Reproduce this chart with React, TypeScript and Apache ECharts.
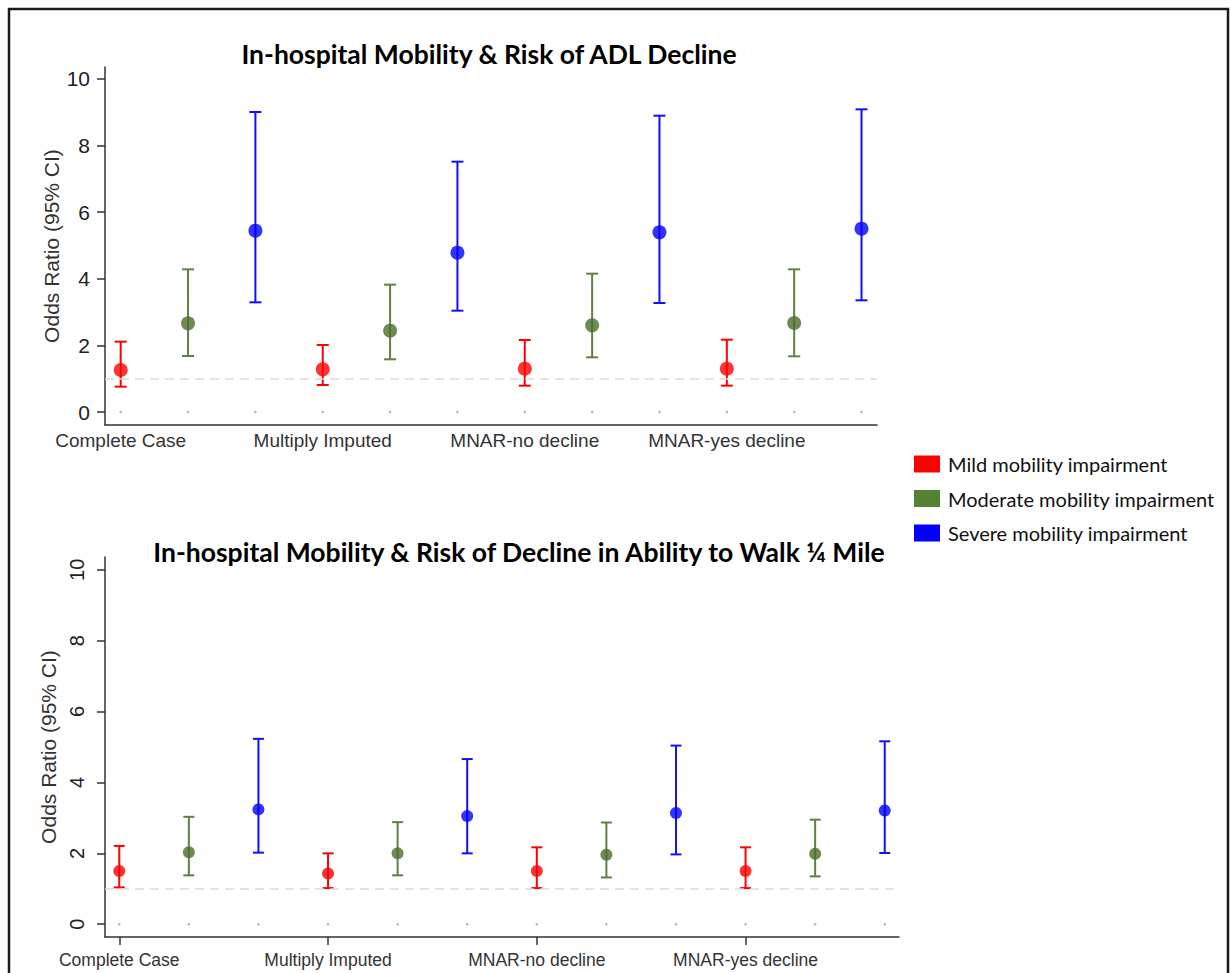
import React, { useEffect, useRef } from "react";
import * as echarts from "echarts";

// ---------- data ----------
const categories = ["Complete Case", "Multiply Imputed", "MNAR-no decline", "MNAR-yes decline"];
const severityNames = ["Mild mobility impairment", "Moderate mobility impairment", "Severe mobility impairment"];
const yTicks = [0, 2, 4, 6, 8, 10];

// Top panel: ADL decline (odds ratio, lower CI, upper CI)
const adlMild = [1.26, 1.28, 1.3, 1.3];
const adlMildLow = [0.76, 0.81, 0.79, 0.79];
const adlMildHigh = [2.11, 2.01, 2.16, 2.17];
const adlModerate = [2.66, 2.44, 2.6, 2.67];
const adlModerateLow = [1.68, 1.58, 1.64, 1.67];
const adlModerateHigh = [4.28, 3.82, 4.15, 4.28];
const adlSevere = [5.44, 4.78, 5.39, 5.5];
const adlSevereLow = [3.29, 3.04, 3.27, 3.35];
const adlSevereHigh = [9.0, 7.51, 8.89, 9.08];

// Bottom panel: decline in ability to walk 1/4 mile
const walkMild = [1.5, 1.43, 1.5, 1.5];
const walkMildLow = [1.04, 1.02, 1.02, 1.02];
const walkMildHigh = [2.21, 2.0, 2.17, 2.17];
const walkModerate = [2.03, 2.0, 1.96, 1.99];
const walkModerateLow = [1.38, 1.38, 1.32, 1.35];
const walkModerateHigh = [3.03, 2.88, 2.87, 2.95];
const walkSevere = [3.24, 3.05, 3.14, 3.21];
const walkSevereLow = [2.02, 2.0, 1.97, 2.01];
const walkSevereHigh = [5.23, 4.66, 5.04, 5.16];

const referenceOR = 1;

// ---------- styles ----------
const markerColors = ["#ff0000", "#4b6e2a", "#0000ff"];
const barColors = ["#ff0000", "#617f43", "#1010ff"];
const legendColors = ["#ff0000", "#548235", "#0000ff"];
const AXIS_FONT = "'Liberation Sans', Arial, sans-serif";
const TITLE_FONT = "Lato, 'Open Sans', sans-serif";

const xPos = (catIdx: number, sevIdx: number) => catIdx * 3 + sevIdx + 1;

type Panel = {
  est: number[][];
  low: number[][];
  high: number[][];
};

const panels: Panel[] = [
  {
    est: [adlMild, adlModerate, adlSevere],
    low: [adlMildLow, adlModerateLow, adlSevereLow],
    high: [adlMildHigh, adlModerateHigh, adlSevereHigh],
  },
  {
    est: [walkMild, walkModerate, walkSevere],
    low: [walkMildLow, walkModerateLow, walkSevereLow],
    high: [walkMildHigh, walkModerateHigh, walkSevereHigh],
  },
];

function buildOption() {
  const series: any[] = [];
  const capHalf = [6, 5.5];
  const markerSize = [14, 12];

  panels.forEach((p, gi) => {
    // faint dots at y=0 for each position
    const dots: number[][] = [];
    categories.forEach((_, ci) => [0, 1, 2].forEach((si) => dots.push([xPos(ci, si), 0])));
    series.push({
      type: "scatter",
      xAxisIndex: gi,
      yAxisIndex: gi,
      data: dots,
      symbolSize: 2.5,
      itemStyle: { color: "#9a9a9a" },
      silent: true,
      z: 1,
      markLine: {
        silent: true,
        symbol: "none",
        label: { show: false },
        lineStyle: { color: "#dadada", width: 1.5, type: [9, 6] },
        data: [{ yAxis: referenceOR }],
      },
    });

    severityNames.forEach((name, si) => {
      const bars = categories.map((_, ci) => [xPos(ci, si), p.low[si][ci], p.high[si][ci]]);
      const pts = categories.map((_, ci) => [xPos(ci, si), p.est[si][ci]]);
      const color = barColors[si];
      series.push({
        type: "custom",
        name,
        xAxisIndex: gi,
        yAxisIndex: gi,
        data: bars,
        encode: { x: 0, y: [1, 2] },
        z: 3,
        renderItem: (_params: any, api: any) => {
          const x = api.value(0);
          const lo = api.coord([x, api.value(1)]);
          const hi = api.coord([x, api.value(2)]);
          const hw = capHalf[gi];
          const style = { stroke: color, lineWidth: 2 };
          return {
            type: "group",
            children: [
              { type: "line", shape: { x1: lo[0], y1: lo[1], x2: hi[0], y2: hi[1] }, style },
              { type: "line", shape: { x1: hi[0] - hw, y1: hi[1], x2: hi[0] + hw, y2: hi[1] }, style },
              { type: "line", shape: { x1: lo[0] - hw, y1: lo[1], x2: lo[0] + hw, y2: lo[1] }, style },
            ],
          };
        },
      });
      series.push({
        type: "scatter",
        name,
        xAxisIndex: gi,
        yAxisIndex: gi,
        data: pts,
        symbol: "circle",
        symbolSize: markerSize[gi],
        itemStyle: { color: markerColors[si] },
        z: 5,
      });
    });
  });

  const grids = [
    { left: 105, right: 353, top: 67, bottom: 548 },
    { left: 105, right: 331, top: 557, bottom: 36 },
  ];
  const xRanges = [
    [0.767, 12.23],
    [0.795, 12.205],
  ];
  const yRanges = [
    [-0.39, 10.35],
    [-0.36, 10.36],
  ];
  const xCustom = categories.map((_, ci) => xPos(ci, 0));

  const xAxis = [0, 1].map((gi) => ({
    type: "value",
    gridIndex: gi,
    min: xRanges[gi][0],
    max: xRanges[gi][1],
    splitLine: { show: false },
    axisLine: { show: true, onZero: false, lineStyle: { color: "#333", width: 1.5 } },
    axisTick: gi === 1
      ? { show: true, customValues: xCustom, length: 8, lineStyle: { color: "#333", width: 1.5 } }
      : { show: false },
    axisLabel: {
      customValues: xCustom,
      formatter: (v: number) => categories[Math.round((v - 1) / 3)] ?? "",
      fontFamily: AXIS_FONT,
      fontSize: gi === 0 ? 19 : 17.5,
      color: "#333",
      margin: gi === 0 ? 6 : 14,
    },
  }));

  const yAxis = [0, 1].map((gi) => ({
    type: "value",
    gridIndex: gi,
    min: yRanges[gi][0],
    max: yRanges[gi][1],
    splitLine: { show: false },
    axisLine: { show: true, onZero: false, lineStyle: { color: "#333", width: 1.5 } },
    axisTick: { show: true, customValues: yTicks, length: 8, lineStyle: { color: "#333", width: 1.5 } },
    axisLabel: {
      customValues: yTicks,
      fontFamily: AXIS_FONT,
      fontSize: gi === 0 ? 21 : 20,
      color: "#222",
      rotate: gi === 0 ? 0 : 90,
      margin: gi === 0 ? 15 : 18,
    },
    name: "Odds Ratio (95% CI)",
    nameLocation: "middle",
    nameMoveOverlap: false,
    nameGap: gi === 0 ? 43 : 46.5,
    nameTextStyle: { fontFamily: AXIS_FONT, fontSize: 21, color: "#333" },
  }));

  return {
    animation: false,
    backgroundColor: "#fff",
    title: [
      {
        text: "In-hospital Mobility & Risk of ADL Decline",
        left: 484,
        textAlign: "center",
        top: 35,
        textStyle: { fontFamily: TITLE_FONT, fontWeight: "bold", fontSize: 26.5, color: "#000" },
      },
      {
        text: "In-hospital Mobility & Risk of Decline in Ability to Walk ¼ Mile",
        left: 514,
        textAlign: "center",
        top: 533,
        textStyle: { fontFamily: TITLE_FONT, fontWeight: "bold", fontSize: 26.5, color: "#000" },
      },
    ],
    legend: {
      orient: "vertical",
      left: 909,
      top: 449,
      itemWidth: 26,
      itemHeight: 17,
      itemGap: 14.5,
      icon: "rect",
      selectedMode: false,
      data: severityNames.map((n, i) => ({ name: n, itemStyle: { color: legendColors[i] } })),
      textStyle: { fontFamily: TITLE_FONT, fontSize: 20, color: "#111", padding: [0, 0, 0, 3] },
    },
    grid: grids,
    xAxis,
    yAxis,
    series,
    graphic: [
      {
        type: "rect",
        silent: true,
        shape: { x: 9, y: 9, width: 1219, height: 1000 },
        style: { fill: "none", stroke: "#1a1a1a", lineWidth: 2.5 },
      },
    ],
  };
}

export default function App() {
  const ref = useRef<HTMLDivElement>(null);
  useEffect(() => {
    if (!ref.current) return;
    const chart = echarts.init(ref.current, undefined, { renderer: "svg" });
    chart.setOption(buildOption() as any);
    return () => chart.dispose();
  }, []);
  return (
    <div
      ref={ref}
      style={{ position: "fixed", left: 0, top: 0, width: 1230, height: 973, background: "#fff" }}
    />
  );
}
